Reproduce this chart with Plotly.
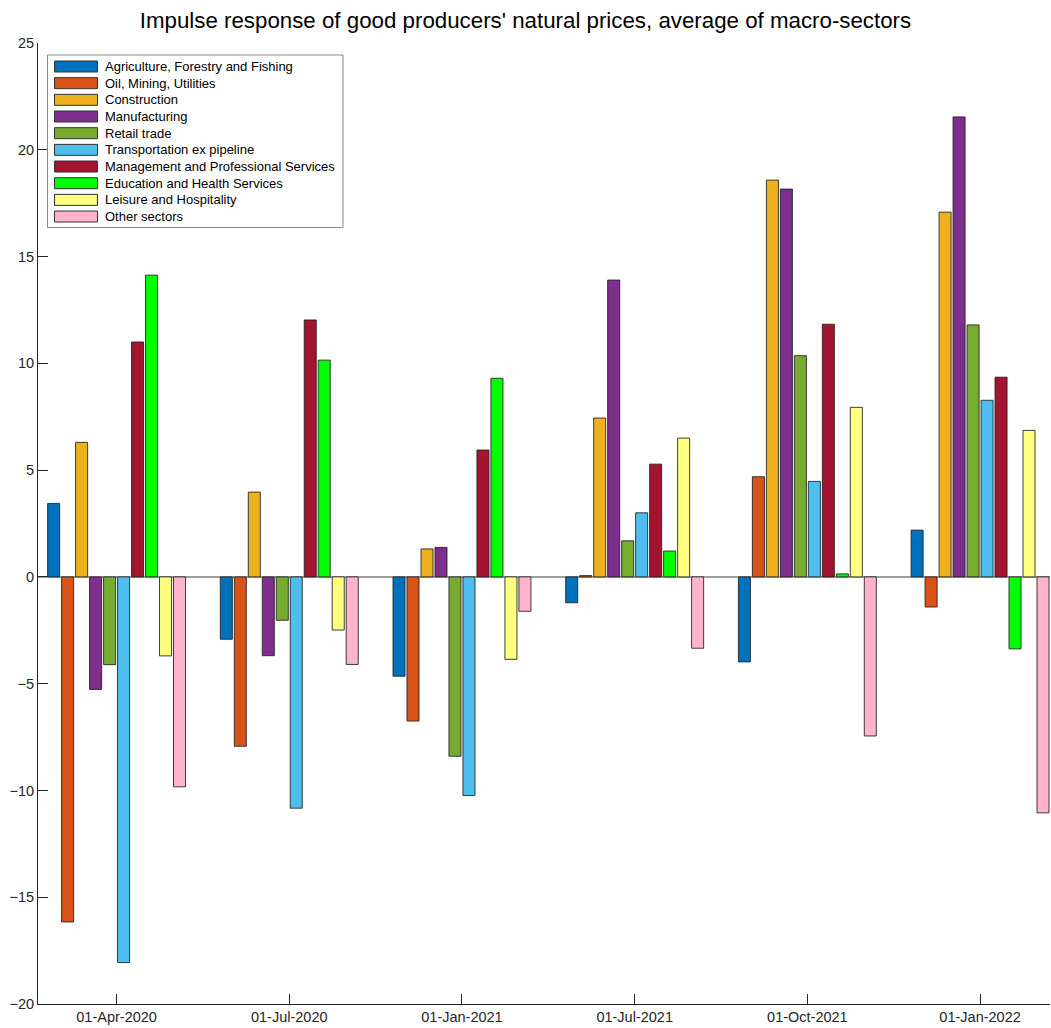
import plotly.graph_objects as go

dates = ["01-Apr-2020", "01-Jul-2020", "01-Jan-2021", "01-Jul-2021", "01-Oct-2021", "01-Jan-2022"]
positions = [1, 2, 3, 4, 5, 6]

sectors = [
    "Agriculture, Forestry and Fishing",
    "Oil, Mining, Utilities",
    "Construction",
    "Manufacturing",
    "Retail trade",
    "Transportation ex pipeline",
    "Management and Professional Services",
    "Education and Health Services",
    "Leisure and Hospitality",
    "Other sectors",
]

agriculture = [3.44, -2.92, -4.65, -1.21, -3.98, 2.19]
oil_mining = [-16.16, -7.93, -6.75, 0.06, 4.69, -1.41]
construction = [6.30, 3.97, 1.31, 7.44, 18.58, 17.08]
manufacturing = [-5.27, -3.69, 1.38, 13.90, 18.16, 21.54]
retail = [-4.11, -2.03, -8.40, 1.69, 10.36, 11.80]
transportation = [-18.06, -10.83, -10.24, 3.00, 4.47, 8.27]
management = [11.00, 12.03, 5.94, 5.28, 11.83, 9.35]
education = [14.13, 10.15, 9.30, 1.21, 0.14, -3.37]
leisure = [-3.70, -2.49, -3.86, 6.50, 7.94, 6.86]
other = [-9.83, -4.10, -1.61, -3.34, -7.45, -11.05]

series = [agriculture, oil_mining, construction, manufacturing, retail,
          transportation, management, education, leisure, other]

colors = ["#0072BD", "#D95319", "#EDB120", "#7E2F8E", "#77AC30",
          "#4DBEEE", "#A2142F", "#00FF00", "#FFFF80", "#FFB3CC"]

W, H = 1051, 1028
ML, MR, MT, MB = 38, 1, 43, 24
PW, PH = W - ML - MR, H - MT - MB

def px_x(px):
    return (px - ML) / PW

def px_y(py):
    return (H - MB - py) / PH

fig = go.Figure()
for name, vals, col in zip(sectors, series, colors):
    fig.add_trace(go.Bar(
        x=positions, y=vals, name=name, showlegend=False,
        marker=dict(color=col, line=dict(color="rgba(30,30,30,0.85)", width=1)),
    ))

font_family = "Liberation Sans, Arial, Helvetica, sans-serif"
axis_color = "#262626"

# Legend drawn as a boxed list (MATLAB style wide swatches)
shapes = [dict(type="rect", xref="paper", yref="paper", layer="above",
               x0=px_x(47.5), x1=px_x(343), y0=px_y(55), y1=px_y(227.5),
               fillcolor="white", line=dict(color="#8a8a8a", width=1))]
annotations = []
for i, (name, col) in enumerate(zip(sectors, colors)):
    cy = 66.5 + 16.67 * i
    shapes.append(dict(type="rect", xref="paper", yref="paper", layer="above",
                       x0=px_x(54.5), x1=px_x(97.5), y0=px_y(cy - 5.5), y1=px_y(cy + 5.5),
                       fillcolor=col, line=dict(color="#333333", width=1)))
    annotations.append(dict(xref="paper", yref="paper", x=px_x(102.5), y=px_y(cy),
                            text=name, showarrow=False, xanchor="left", yanchor="middle",
                            font=dict(family=font_family, size=13, color="black")))

fig.update_layout(
    width=W, height=H,
    paper_bgcolor="white", plot_bgcolor="white",
    barmode="group", bargap=0.19, bargroupgap=0.14,
    margin=dict(l=ML, r=MR, t=MT, b=MB),
    font=dict(family=font_family, size=14.5, color=axis_color),
    title=dict(
        text="Impulse response of good producers' natural prices, average of macro-sectors",
        x=0.5, xref="container", xanchor="center",
        y=1 - 20 / H, yref="container", yanchor="middle",
        font=dict(family=font_family, size=22.3, color="black"),
    ),
    shapes=shapes,
    annotations=annotations,
    showlegend=False,
)

fig.update_xaxes(
    range=[0.545, 6.405],
    tickmode="array", tickvals=positions, ticktext=dates,
    ticks="inside", ticklen=10, tickcolor=axis_color, tickwidth=1,
    showline=True, linecolor=axis_color, linewidth=1,
    showgrid=False, zeroline=False, mirror=False,
)
fig.update_yaxes(
    range=[-20, 25],
    tickmode="array", tickvals=[-20, -15, -10, -5, 0, 5, 10, 15, 20, 25],
    ticks="inside", ticklen=10, tickcolor=axis_color, tickwidth=1,
    showline=True, linecolor=axis_color, linewidth=1,
    showgrid=False, zeroline=True, zerolinecolor="#A0A0A0", zerolinewidth=1.5,
    mirror=False,
)

fig.write_html("out.html", config={"displayModeBar": False},
               post_script="document.body.style.margin='0';document.body.style.overflow='hidden';")
